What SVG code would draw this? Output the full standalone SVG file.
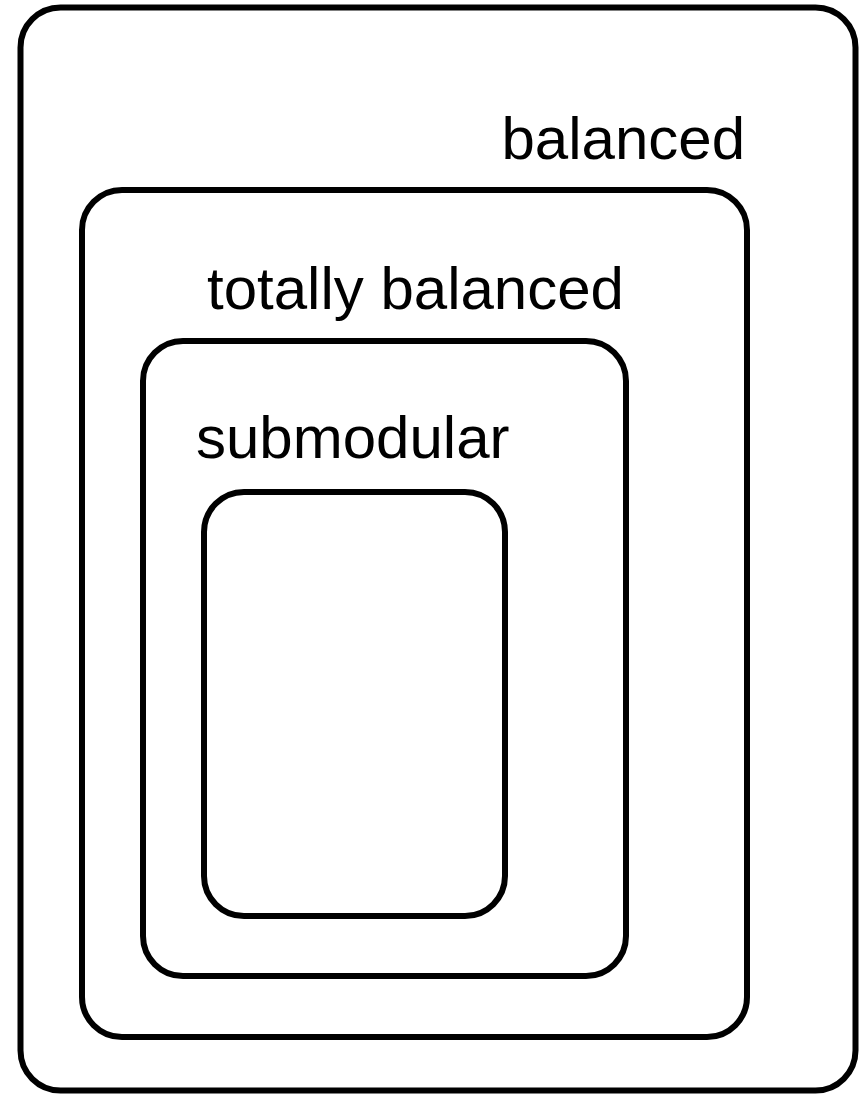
<svg xmlns="http://www.w3.org/2000/svg" width="859" height="1095" viewBox="0 0 859 1095">
  <style>
    .set { fill: none; stroke: #000; stroke-width: 6; }
    .label { font-family: "Liberation Sans", Arial, sans-serif; font-size: 60px; fill: #000; }
  </style>
  <rect width="859" height="1095" fill="#fff"/>
  <!-- nested class regions -->
  <g id="balanced">
    <rect class="set" x="20.5" y="7.5" width="835" height="1083" rx="40" ry="40"/>
    <text class="label" x="745" y="159" text-anchor="end">balanced</text>
  </g>
  <g id="totally-balanced">
    <rect class="set" x="82" y="190" width="665" height="847" rx="40" ry="40"/>
    <text class="label" x="207" y="309">totally balanced</text>
  </g>
  <g id="submodular">
    <rect class="set" x="143" y="341" width="483" height="635" rx="40" ry="40"/>
    <text class="label" x="196" y="458">submodular</text>
  </g>
  <g id="innermost">
    <rect class="set" x="204" y="492" width="301" height="424" rx="40" ry="40"/>
  </g>
  <g id="connectors"/>
</svg>
